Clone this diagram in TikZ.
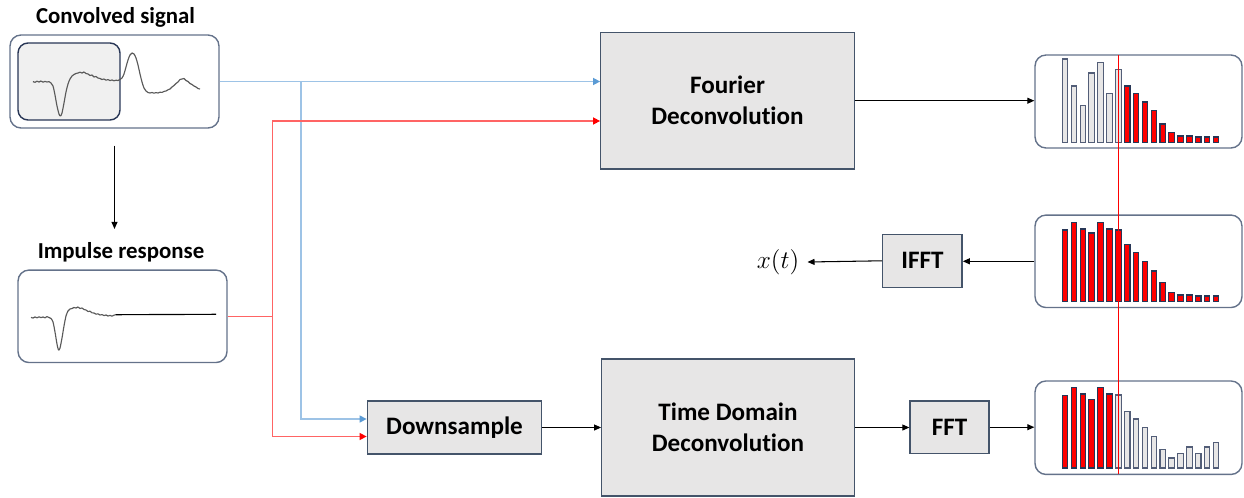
\documentclass[tikz,border=0pt]{standalone}
\usepackage{fontspec}
\setmainfont{Carlito}[Ligatures={NoCommon,NoContextual}]
\usetikzlibrary{arrows.meta,calc}

\definecolor{boxfill}{RGB}{231,230,230}
\definecolor{winfill}{RGB}{240,240,240}
\definecolor{boxline}{RGB}{68,84,106}
\definecolor{frameline}{RGB}{100,114,138}
\definecolor{barline}{RGB}{40,54,86}
\definecolor{sigline}{RGB}{90,90,90}
\definecolor{bluel}{RGB}{157,195,230}
\definecolor{bluet}{RGB}{91,155,213}
\definecolor{redl}{RGB}{255,100,100}

\tikzset{
  procbox/.style={draw=boxline, fill=boxfill, line width=0.75pt, align=center,
    font=\fontsize{14.3}{17.6}\selectfont\bfseries, inner sep=0pt},
  frame/.style={draw=frameline, line width=0.8pt, rounded corners=0.22cm, inner sep=0pt},
  title/.style={font=\fontsize{13}{15.6}\selectfont\bfseries, anchor=base, inner sep=0pt},
  arr/.style={line width=0.6pt, -{Triangle[length=4pt,width=3.4pt]}},
  bluearr/.style={draw=bluel, line width=0.8pt, -{Triangle[length=4pt,width=4pt,color=bluet]}},
  redarr/.style={draw=redl, line width=0.8pt, -{Triangle[length=4pt,width=4pt,color=red]}},
  barr/.style={draw=barline, fill=red, line width=0.6pt},
  barg/.style={draw=barline!80!white, fill=boxfill, line width=0.6pt},
  sig/.style={draw=sigline, line width=0.65pt, line join=round},
}

% bars of a spectrum: #1 baseline, #2..#3 range of red bars, #4 heights
\newcommand\drawbars[4]{%
  \foreach \h [count=\i] in {#4}{%
    \def\bstyle{barg}%
    \ifnum\i<#2\relax\else\ifnum\i>#3\relax\else\def\bstyle{barr}\fi\fi
    \draw[\bstyle] ({1062.3+(\i-1)*8.88},#1) rectangle ++(5.5,-\h);
  }}

\begin{document}
\begin{tikzpicture}[x=0.02cm, y=-0.02cm]
\useasboundingbox (0,0) rectangle (1244,497);

% ---- input signals ----
\node[title] (convtitle) at (115.5,24) {Convolved signal};
\node[frame, minimum width=4.18cm, minimum height=1.86cm] (conv) at (114.5,81.5) {};
\node[draw=barline, fill=winfill, line width=0.8pt, rounded corners=0.2cm,
      minimum width=2.04cm, minimum height=1.54cm, inner sep=0pt] (convwin) at (69,81.5) {};
\draw[sig] plot[smooth, tension=0.5] coordinates {
 (33,81.5) (35,82.3) (37,81.2) (39,82) (41,81) (43,82.2) (45,81.4) (47,82) (49,81.6)
 (51,83) (53,86) (55,95) (57,106) (59,114) (60.5,116) (62,113) (64,103) (66,92) (68,84)
 (70,79) (72,76) (74,74.5) (76,73.5) (78,73) (80,72.2) (82,73) (84,72) (86,73.5) (88,74)
 (90,75.5) (92,75) (94,77) (96,76.5) (98,78) (100,78.5) (102,79.5) (104,79) (106,80.2)
 (108,79.6) (110,80.6) (112,80) (114,80.8) (116,80.2) (118,80.5) (120,79.5) (122,78)
 (124,74) (126,67) (128,60) (130,55) (132,53) (134,54) (136,58) (138,65) (140,74)
 (142,82) (144,88) (146,91) (148,92.5) (150,93) (152,92.5) (154,93.2) (156,92.6)
 (158,93) (160,92.2) (162,92.4) (164,91.4) (166,91) (168,89.8) (170,89) (172,87)
 (174,85.5) (176,83.5) (178,82) (180,79.5) (182,79) (184,78.5) (186,80.5) (188,81.5)
 (190,83.5) (192,84.5) (194,86) (196,87) (198,88.5) (200,89)};

\node[title] (imptitle) at (121,258.3) {Impulse response};
\node[frame, minimum width=4.18cm, minimum height=1.85cm] (imp) at (122.5,316.3) {};
\draw[sig] plot[smooth, tension=0.5] coordinates {
 (31,317.3) (33,318) (35,317) (37,317.8) (39,316.8) (41,317.6) (43,317) (45,317.8)
 (47,316.6) (49,317.5) (51,318.5) (53,322) (55,332) (57,344) (58.5,350) (60,348)
 (62,338) (64,326) (66,316) (68,311) (70,309) (72,308.5) (74,307.5) (76,308) (78,307)
 (80,308.5) (82,308) (84,309.5) (86,310) (88,311.5) (90,311.2) (92,312.8) (94,313)
 (96,314.2) (98,313.8) (100,315) (102,314.6) (104,315.6) (106,315) (108,316)
 (110,315.4) (112,316.2) (114,315.2) (115.5,314.7)};
\draw[line width=0.65pt] (115.5,314.7) -- (216,314.3);

\draw[arr, shorten <=0.34cm, shorten >=0.26cm] (conv.south) -- (conv.south |- imptitle.north);

% ---- processing blocks ----
\node[procbox, minimum width=5.07cm, minimum height=2.73cm] (fourier) at (727.5,100.7) {Fourier\\Deconvolution};
\node[procbox, minimum width=5.05cm, minimum height=2.74cm] (time) at (728,427.5) {Time Domain\\Deconvolution};
\node[procbox, minimum width=3.49cm, minimum height=1.06cm] (down) at (454.5,427.5) {Downsample};
\node[procbox, minimum width=1.58cm, minimum height=1.05cm] (fft) at (949.5,427.2) {FFT};
\node[procbox, minimum width=1.59cm, minimum height=1.06cm] (ifft) at (922.4,260.8) {IFFT};
\node[inner sep=0pt, font=\fontsize{15}{18}\selectfont] (xt) at (778,262) {$x(t)$};

% ---- spectra ----
\node[frame, minimum width=4.14cm, minimum height=1.86cm] (chartA) at (1138.5,101.5) {};
\node[frame, minimum width=4.14cm, minimum height=1.85cm] (chartB) at (1138.5,261.3) {};
\node[frame, minimum width=4.14cm, minimum height=1.87cm] (chartC) at (1138.5,427.7) {};

\drawbars{142.3}{8}{18}{83.3,56.3,36.6,69.3,80,49,72.6,56.3,49,40.3,31.6,18.3,9.6,6.3,6.3,5.3,5.3,5.3}
\drawbars{301.3}{1}{18}{71.3,79,72.3,68.3,79,72.3,71.3,56.6,48.6,40,30.3,18.6,8.6,6.3,6.3,5.3,5.3,5.3}
\drawbars{468}{1}{6}{72.7,80.3,74,68.7,80.3,74,73,56.7,49,40.7,31.7,18.7,10,14.3,21,14.3,21,25.3}

\coordinate (cutTop) at (1118,55);
\coordinate (cutBot) at (1118,474);
\draw[red, line width=0.45pt] (cutTop) -- (cutBot);

% ---- connectors ----
\coordinate (bj) at (301,81.5);
\coordinate (rj) at (272.7,316.3);
\draw[bluearr] (conv.east) -- (conv.east -| fourier.west);
\draw[bluearr] (bj) |- ([yshift=0.17cm]down.west);
\draw[draw=redl, line width=0.8pt] (imp.east) -- (rj);
\draw[redarr] (rj) |- ([yshift=-0.406cm]fourier.west);
\draw[redarr] (rj) |- ([yshift=-0.18cm]down.west);

\draw[arr] (fourier.east) -- (fourier.east -| chartA.west);
\draw[arr] (down.east) -- (down.east -| time.west);
\draw[arr] (time.east) -- (time.east -| fft.west);
\draw[arr] (fft.east) -- (fft.east -| chartC.west);
\draw[arr] (chartB.west) -- (chartB.west -| ifft.east);
\draw[arr] (ifft.west) -- ([xshift=0.16cm]xt.east);
\end{tikzpicture}
\end{document}
